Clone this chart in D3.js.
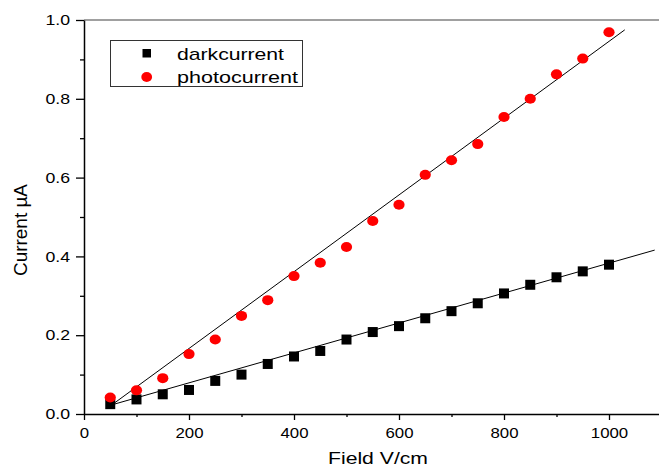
<!DOCTYPE html>
<html>
<head>
<meta charset="utf-8">
<script src="https://cdn.jsdelivr.net/npm/d3@7"></script>
<style>
html,body{margin:0;padding:0;background:#fff;}
svg{display:block;font-family:"Liberation Sans",Arial,sans-serif;}
</style>
</head>
<body>
<svg id="chart" width="659" height="468"></svg>
<script>
// ---- data ----
const fieldValues = [50,100,150,200,250,300,350,400,450,500,550,600,650,700,750,800,850,900,950,1000];
const darkCurrent = [0.025,0.037,0.050,0.061,0.084,0.100,0.127,0.146,0.160,0.189,0.208,0.223,0.243,0.261,0.281,0.306,0.328,0.347,0.362,0.379];
const photoCurrent = [0.042,0.060,0.091,0.152,0.189,0.249,0.289,0.350,0.384,0.424,0.490,0.531,0.607,0.644,0.685,0.754,0.800,0.862,0.902,0.969];
const darkFitX = [55, 1087];
const darkFitY = [0.024, 0.416];
const photoFitX = [55, 1030];
const photoFitY = [0.025, 0.975];
const xTicks = [0,200,400,600,800,1000];
const xMinorTicks = [100,300,500,700,900,1100];
const yTicks = [0,0.2,0.4,0.6,0.8,1.0];
const yMinorTicks = [0.1,0.3,0.5,0.7,0.9];
const seriesNames = ["darkcurrent","photocurrent"];

const svg = d3.select("#chart");
const x = d3.scaleLinear().domain([0,1100]).range([84, 84+1100*0.525]);
const y = d3.scaleLinear().domain([0,1]).range([414, 20]);

function stretch(sel, f){
  sel.each(function(){
    const w = this.getComputedTextLength();
    d3.select(this).attr("textLength", w*f).attr("lengthAdjust","spacingAndGlyphs");
  });
}

// top frame line
svg.append("line").attr("x1",84).attr("x2",659).attr("y1",y(1)).attr("y2",y(1))
  .attr("stroke","#808080").attr("stroke-width",1.5);

// x axis
const xAxis = svg.append("g").attr("transform",`translate(0,${y(0)})`)
  .call(d3.axisBottom(x).tickValues(xTicks).tickFormat(d3.format("d")).tickSize(6).tickPadding(7).tickSizeOuter(0));
xAxis.select(".domain").attr("stroke","#000").attr("stroke-width",1.5);
xAxis.selectAll(".tick line").attr("stroke","#000").attr("stroke-width",1.3);
xAxis.selectAll("text").attr("font-size",15).attr("font-family","Liberation Sans, Arial, sans-serif").attr("fill","#000");
stretch(xAxis.selectAll("text"), 1.12);
svg.append("g").attr("transform",`translate(0,${y(0)})`)
  .call(d3.axisBottom(x).tickValues(xMinorTicks).tickFormat("").tickSize(3).tickSizeOuter(0))
  .call(g=>g.select(".domain").remove())
  .selectAll(".tick line").attr("stroke","#000").attr("stroke-width",1.3);

// y axis
const yAxis = svg.append("g").attr("transform",`translate(${x(0)},0)`)
  .call(d3.axisLeft(y).tickValues(yTicks).tickFormat(d3.format(".1f")).tickSize(8).tickPadding(6).tickSizeOuter(0));
yAxis.select(".domain").attr("stroke","#000").attr("stroke-width",1.5);
yAxis.selectAll(".tick line").attr("stroke","#000").attr("stroke-width",1.3);
yAxis.selectAll("text").attr("font-size",14.5).attr("font-family","Liberation Sans, Arial, sans-serif").attr("fill","#000");
stretch(yAxis.selectAll("text"), 1.22);
svg.append("g").attr("transform",`translate(${x(0)},0)`)
  .call(d3.axisLeft(y).tickValues(yMinorTicks).tickFormat("").tickSize(4).tickSizeOuter(0))
  .call(g=>g.select(".domain").remove())
  .selectAll(".tick line").attr("stroke","#000").attr("stroke-width",1.3);

// axis titles
svg.append("text").attr("x",378).attr("y",464).attr("text-anchor","middle")
  .attr("font-size",17).attr("fill","#000").text("Field V/cm")
  .attr("textLength",100).attr("lengthAdjust","spacingAndGlyphs");
svg.append("text").attr("transform","translate(27,230) rotate(-90)").attr("text-anchor","middle")
  .attr("font-size",18).attr("fill","#000").text("Current \u00B5A")
  .attr("textLength",92).attr("lengthAdjust","spacingAndGlyphs");

// fit lines
const line = d3.line().x(d=>x(d[0])).y(d=>y(d[1]));
svg.append("path").datum(d3.zip(darkFitX,darkFitY)).attr("d",line)
  .attr("fill","none").attr("stroke","#000").attr("stroke-width",1);
svg.append("path").datum(d3.zip(photoFitX,photoFitY)).attr("d",line)
  .attr("fill","none").attr("stroke","#000").attr("stroke-width",1);

// markers
svg.append("g").selectAll("rect").data(d3.zip(fieldValues,darkCurrent)).join("rect")
  .attr("x",d=>x(d[0])-5).attr("y",d=>y(d[1])-5).attr("width",10).attr("height",10).attr("fill","#000");
svg.append("g").selectAll("ellipse").data(d3.zip(fieldValues,photoCurrent)).join("ellipse")
  .attr("cx",d=>x(d[0])).attr("cy",d=>y(d[1])).attr("rx",5.6).attr("ry",5).attr("fill","#ff0000");

// legend
const lg = svg.append("g");
lg.append("rect").attr("x",110.5).attr("y",40.5).attr("width",192).attr("height",46)
  .attr("fill","#fff").attr("stroke","#333").attr("stroke-width",1);
lg.append("rect").attr("x",142.5).attr("y",49).attr("width",8.5).attr("height",8.5).attr("fill","#000");
lg.append("ellipse").attr("cx",146.7).attr("cy",77).attr("rx",5.4).attr("ry",5).attr("fill","#ff0000");
const legendLens = [107, 121];
lg.selectAll("text").data(seriesNames).join("text")
  .attr("x",177).attr("y",(d,i)=>60+i*23).attr("font-size",17).attr("fill","#000").text(d=>d)
  .attr("textLength",(d,i)=>legendLens[i]).attr("lengthAdjust","spacingAndGlyphs");
</script>
</body>
</html>
